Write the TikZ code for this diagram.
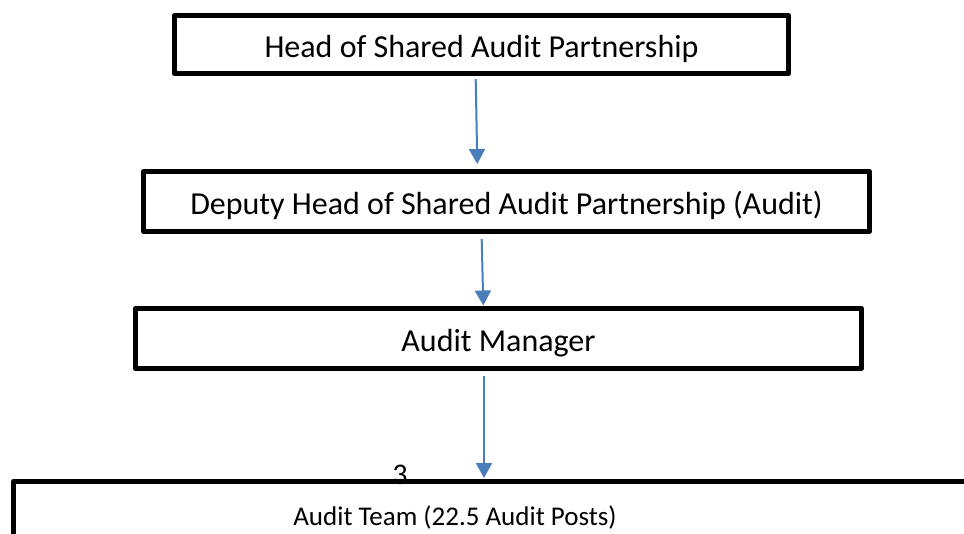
\documentclass[tikz,border=0pt]{standalone}
\usepackage{fontspec}
\setmainfont{Carlito}
\usetikzlibrary{arrows.meta}
\definecolor{arrowblue}{RGB}{74,126,187}
\begin{document}
\begin{tikzpicture}[x=1pt,y=-1pt]
\tikzstyle{every node}=[font=\fontsize{32}{38}\selectfont,text height=25pt,text depth=0pt,inner sep=0pt]
\tikzstyle{post}=[draw,line width=5pt,line join=round,minimum height=60pt]
\tikzstyle{link}=[draw=arrowblue,line width=2pt,-{Triangle[width=16pt,length=15pt]}]
\useasboundingbox (0,0) rectangle (964,533);
\clip (0,0) rectangle (964,533);
% the posts, top to bottom
\node[post,minimum width=614pt,minimum height=58pt] (head) at (481.5,44.5) {Head of Shared Audit Partnership};
\node[post,minimum width=726pt] (deputy) at (506.5,201.5) {Deputy Head of Shared Audit Partnership (Audit)};
\node[post,minimum width=726pt] (manager) at (498.5,338.5) {Audit Manager};
\node[anchor=base,font=\fontsize{30}{36}\selectfont] (pagenum) at (400,484) {3};
\node[post,minimum width=1000pt,anchor=north west] (team) at (11,479) {};
\node[anchor=base,font=\fontsize{27}{32}\selectfont] (teamtext) at (455,525) {Audit Team (22.5 Audit Posts)};
% reporting lines
\draw[link] ([xshift=-5.8pt,yshift=-3pt]head.south) -- ([xshift=-29.2pt,yshift=5pt]deputy.north);
\draw[link] ([xshift=-24.8pt,yshift=-5pt]deputy.south) -- ([xshift=-15.2pt,yshift=0.5pt]manager.north);
\draw[link] ([xshift=-14.5pt,yshift=-5pt]manager.south) -- ([xshift=-29.5pt,yshift=1pt]team.north);
\end{tikzpicture}
\end{document}
